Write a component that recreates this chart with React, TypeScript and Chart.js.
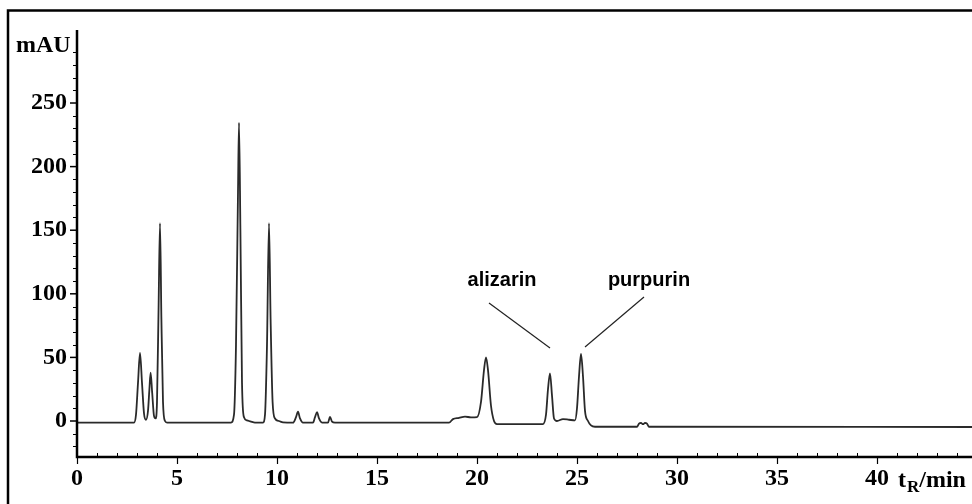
import React, { useEffect, useRef } from "react";
import { Chart, registerables } from "chart.js";

Chart.register(...registerables);

// Retention time (min) and detector response (mAU)
const retentionTimes = [
  0, 2.85,
  2.95, 3.05, 3.15, 3.25, 3.35, 3.45,
  3.55, 3.62, 3.68, 3.76, 3.85, 3.93,
  4.0, 4.08, 4.15, 4.22, 4.3, 4.4, 4.5,
  7.7,
  7.85, 7.95, 8.05, 8.1, 8.17, 8.25, 8.35, 8.5, 8.7, 8.9, 9.3,
  9.4, 9.5, 9.6, 9.68, 9.78, 9.9, 10.1, 10.3, 10.8,
  10.95, 11.05, 11.15, 11.3, 11.8, 11.9, 12.0, 12.1, 12.25, 12.55, 12.65, 12.75, 12.9,
  18.6, 18.8, 19.1, 19.4, 19.7, 20.0, 20.2, 20.35, 20.45, 20.55, 20.7, 20.85, 21.0,
  23.3, 23.45, 23.55, 23.65, 23.75, 23.85, 24.0, 24.3, 24.6, 24.9,
  25.0, 25.1, 25.2, 25.3, 25.4, 25.55, 25.7, 25.9,
  28.0, 28.1, 28.2, 28.3, 28.4, 28.5, 28.6, 44.75,
];

const absorbance = [
  -1.2, -1.2,
  5, 30, 53.5, 30, 6, 1,
  8, 25, 38, 22, 4, 2,
  15, 90, 155.5, 80, 15, 0, -1.2,
  -1.2,
  5, 60, 180, 234.5, 150, 30, 3, 0.5, -0.5, -1.2, -1.2,
  5, 60, 155.5, 80, 15, 2, 0, -1, -1.3,
  3, 7.3, 2, -1.3, -1.3, 3, 7, 2, -1.2, -1.2, 3.2, -0.5, -1.3,
  -1.3, 1.5, 2.5, 3.5, 2.8, 3, 15, 40, 50, 40, 12, 0, -2.4,
  -2.4, 5, 25, 37.5, 20, 2, 0, 1.5, 1, 0.5,
  10, 35, 52.7, 35, 8, 0, -3.5, -4.5,
  -4.5, -2, -1.5, -2.5, -1.5, -2, -4.5, -4.7,
];

const xTickValues = [0, 5, 10, 15, 20, 25, 30, 35, 40];
const yTickValues = [0, 50, 100, 150, 200, 250];

const peakNames = ["alizarin", "purpurin"];
const peakLabelX = [21.25, 28.6];
const peakLabelY = [106, 106];
const leaderStartX = [20.6, 28.35];
const leaderStartY = [92.8, 97.5];
const leaderEndX = [23.65, 25.4];
const leaderEndY = [57.4, 58.2];

const SERIF = "'Liberation Serif', 'Times New Roman', serif";
const SANS = "'Liberation Sans', Arial, sans-serif";

const framePlugin = {
  id: "chromFrame",
  afterDraw(chart: any) {
    const ctx = chart.ctx as CanvasRenderingContext2D;
    const xs = chart.scales.x;
    const ys = chart.scales.y;
    const { left, right, top, bottom } = chart.chartArea;
    ctx.save();
    ctx.strokeStyle = "#000";
    ctx.lineCap = "butt";

    // outer frame (top + left)
    ctx.lineWidth = 2.5;
    ctx.beginPath();
    ctx.moveTo(8, 504);
    ctx.lineTo(8, 10.5);
    ctx.lineTo(972, 10.5);
    ctx.stroke();

    // axes
    ctx.lineWidth = 2.5;
    ctx.beginPath();
    ctx.moveTo(left, top);
    ctx.lineTo(left, bottom);
    ctx.lineTo(right, bottom);
    ctx.stroke();

    // y minor ticks
    ctx.lineWidth = 1;
    for (let v = Math.ceil(ys.min / 10) * 10; v <= ys.max; v += 10) {
      if (v % 50 === 0) continue;
      const y = Math.round(ys.getPixelForValue(v)) + 0.5;
      ctx.beginPath();
      ctx.moveTo(left - 4, y);
      ctx.lineTo(left, y);
      ctx.stroke();
    }
    // y major ticks
    ctx.lineWidth = 1.5;
    yTickValues.forEach((v) => {
      const y = ys.getPixelForValue(v);
      ctx.beginPath();
      ctx.moveTo(left - 7, y);
      ctx.lineTo(left, y);
      ctx.stroke();
    });
    // x minor ticks
    ctx.lineWidth = 1;
    for (let v = Math.ceil(xs.min); v <= xs.max; v += 1) {
      if (v % 5 === 0) continue;
      const x = Math.round(xs.getPixelForValue(v)) + 0.5;
      ctx.beginPath();
      ctx.moveTo(x, bottom - 4);
      ctx.lineTo(x, bottom);
      ctx.stroke();
    }
    // x major ticks
    ctx.lineWidth = 1.2;
    xTickValues.forEach((v) => {
      const x = Math.round(xs.getPixelForValue(v)) + 0.5;
      ctx.beginPath();
      ctx.moveTo(x, bottom);
      ctx.lineTo(x, bottom + 7);
      ctx.stroke();
    });

    // axis titles
    ctx.fillStyle = "#000";
    ctx.font = `bold 24px ${SERIF}`;
    ctx.textAlign = "left";
    ctx.textBaseline = "alphabetic";
    ctx.fillText("mAU", 16, 52);

    ctx.fillText("t", 898, 487);
    const tW = ctx.measureText("t").width;
    ctx.font = `bold 17px ${SERIF}`;
    ctx.fillText("R", 898 + tW + 1, 492);
    const rW = ctx.measureText("R").width;
    ctx.font = `bold 24px ${SERIF}`;
    ctx.fillText("/min", 898 + tW + 1 + rW, 487);

    // peak annotations
    ctx.font = `bold 20px ${SANS}`;
    ctx.textAlign = "center";
    ctx.lineWidth = 1.2;
    ctx.strokeStyle = "#222";
    peakNames.forEach((name, i) => {
      ctx.fillText(name, xs.getPixelForValue(peakLabelX[i]), ys.getPixelForValue(peakLabelY[i]));
      ctx.beginPath();
      ctx.moveTo(xs.getPixelForValue(leaderStartX[i]), ys.getPixelForValue(leaderStartY[i]));
      ctx.lineTo(xs.getPixelForValue(leaderEndX[i]), ys.getPixelForValue(leaderEndY[i]));
      ctx.stroke();
    });
    ctx.restore();
  },
};

export default function App() {
  const canvasRef = useRef<HTMLCanvasElement | null>(null);

  useEffect(() => {
    if (!canvasRef.current) return;
    const points = retentionTimes.map((t, i) => ({ x: t, y: absorbance[i] }));
    const chart = new Chart(canvasRef.current, {
      type: "line",
      data: {
        datasets: [
          {
            data: points,
            borderColor: "#2a2a2a",
            borderWidth: 1.8,
            pointRadius: 0,
            fill: false,
            cubicInterpolationMode: "monotone",
          },
        ],
      },
      options: {
        animation: false,
        responsive: false,
        devicePixelRatio: 1,
        layout: { padding: { left: 0, top: 30, right: 0, bottom: 0 } },
        plugins: { legend: { display: false }, tooltip: { enabled: false } },
        scales: {
          x: {
            type: "linear",
            min: 0,
            max: 44.75,
            grid: { display: false, drawTicks: false },
            border: { display: false },
            ticks: {
              stepSize: 5,
              includeBounds: false,
              padding: 7,
              color: "#000",
              maxRotation: 0,
              font: { family: SERIF, weight: "bold", size: 24 },
            },
            afterBuildTicks(scale: any) {
              scale.ticks = xTickValues.map((v) => ({ value: v }));
            },
            afterFit(scale: any) {
              scale.height = 47;
            },
          },
          y: {
            type: "linear",
            min: -28.3,
            max: 307.4,
            grid: { display: false, drawTicks: false },
            border: { display: false },
            ticks: {
              stepSize: 50,
              includeBounds: false,
              padding: 10,
              color: "#000",
              font: { family: SERIF, weight: "bold", size: 24 },
            },
            afterBuildTicks(scale: any) {
              scale.ticks = yTickValues.map((v) => ({ value: v }));
            },
            afterFit(scale: any) {
              scale.width = 77;
            },
          },
        },
      },
      plugins: [framePlugin],
    });
    return () => chart.destroy();
  }, []);

  return (
    <div style={{ position: "fixed", left: 0, top: 0, width: 972, height: 504, background: "#fff" }}>
      <canvas ref={canvasRef} width={972} height={504} style={{ display: "block" }} />
    </div>
  );
}
